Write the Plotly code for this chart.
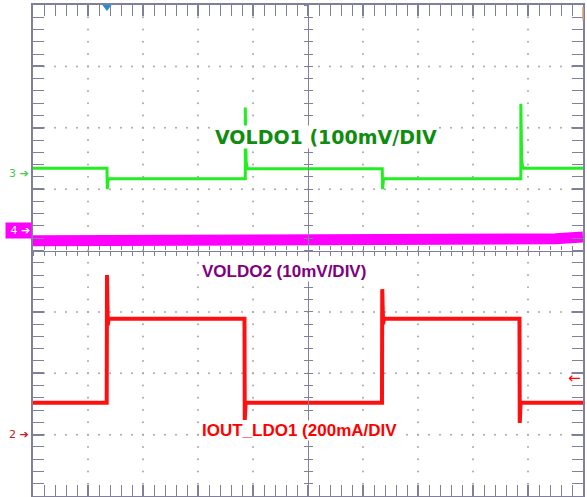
import plotly.graph_objects as go
import numpy as np

# ---- data (in scope divisions: x 0..10, y 0..8) ----
green_t = [0, 1.345, 1.35, 1.37, 3.86, 3.86, 3.875, 3.90, 6.35, 6.355, 6.375, 8.87, 8.87, 8.885, 8.91, 10]
green_v = [5.34, 5.34, 5.00, 5.17, 5.17, 6.33, 5.45, 5.33, 5.33, 5.00, 5.17, 5.17, 6.39, 5.45, 5.34, 5.34]

red_t = [0, 1.34, 1.345, 1.36, 1.375, 3.845, 3.85, 3.865, 3.88, 6.345, 6.35, 6.365, 6.38, 8.845, 8.85, 8.865, 8.88, 10]
red_v = [1.52, 1.52, 3.60, 2.78, 2.89, 2.89, 1.24, 1.50, 1.52, 1.52, 3.37, 2.80, 2.89, 2.89, 1.19, 1.50, 1.52, 1.52]

mag_t = [0, 0.5, 1, 1.5, 2, 2.5, 3, 3.5, 4, 4.5, 5, 5.5, 6, 6.5, 7, 7.5, 8, 8.5, 9, 9.5, 10]
mag_v = [4.16, 4.16, 4.17, 4.16, 4.16, 4.17, 4.16, 4.16, 4.17, 4.20, 4.20, 4.19, 4.17, 4.17, 4.16, 4.16, 4.16, 4.17, 4.17, 4.19, 4.22]

trigger_t = 1.345
ch3_ref, ch4_ref, ch2_ref = 5.26, 4.33, 1.0
cursor_level = 1.925

label1 = "VOLDO1 (100mV/DIV"
label2 = "VOLDO2 (10mV/DIV)"
label3 = "IOUT_LDO1 (200mA/DIV"

X_DIV, Y_DIV = 10, 8
AX = "#80809a"
DOT = "#a8a8a8"

fig = go.Figure()

# grid dots along major division lines
dx, dy = [], []
for gx in range(1, X_DIV):
    if gx == 5:
        continue
    for k in np.arange(0, Y_DIV + 1e-9, 0.2):
        dx.append(gx); dy.append(k)
for gy in range(1, Y_DIV):
    if gy == 4:
        continue
    for k in np.arange(0, X_DIV + 1e-9, 0.2):
        dx.append(k); dy.append(gy)
fig.add_trace(go.Scatter(x=dx, y=dy, mode="markers",
                         marker=dict(size=2, color=DOT), hoverinfo="skip", showlegend=False))

# dummy traces for centre-cross axes
for xa, ya in [("x2", "y"), ("x3", "y"), ("x", "y2"), ("x", "y3")]:
    fig.add_trace(go.Scatter(x=[None], y=[None], xaxis=xa, yaxis=ya, showlegend=False, hoverinfo="skip"))

fig.add_trace(go.Scatter(x=mag_t, y=mag_v, mode="lines",
                         line=dict(color="#ff00ff", width=11), hoverinfo="skip", showlegend=False))
fig.add_trace(go.Scatter(x=green_t, y=green_v, mode="lines",
                         line=dict(color="#22ee22", width=3), hoverinfo="skip", showlegend=False))
fig.add_trace(go.Scatter(x=red_t, y=red_v, mode="lines",
                         line=dict(color="#ff1010", width=4), hoverinfo="skip", showlegend=False))

fig.add_trace(go.Scatter(x=[trigger_t], y=[7.967], mode="markers",
                         marker=dict(symbol="triangle-down", size=8, color="#1e8fd6"),
                         hoverinfo="skip", showlegend=False, cliponaxis=False))

border = dict(showgrid=False, zeroline=False, showline=True, linecolor=AX, linewidth=1.5,
              mirror="allticks", ticks="inside", ticklen=11, tickwidth=1.5, tickcolor=AX,
              dtick=1, tick0=0, showticklabels=False,
              minor=dict(ticks="inside", ticklen=6, tickwidth=1.2, tickcolor=AX, dtick=0.2, tick0=0, showgrid=False))
cross = dict(showgrid=False, zeroline=False, showline=True, linecolor=AX, linewidth=1.2,
             ticklen=4, tickwidth=1.2, tickcolor=AX, dtick=1, tick0=0, showticklabels=False,
             anchor="free", position=0.5,
             minor=dict(ticklen=4, tickwidth=1.2, tickcolor=AX, dtick=0.2, tick0=0, showgrid=False))

fig.update_layout(
    width=587, height=497,
    margin=dict(l=33, r=4, t=5, b=1),
    paper_bgcolor="white", plot_bgcolor="white",
    xaxis=dict(range=[0, X_DIV], **border),
    yaxis=dict(range=[0, Y_DIV], **border),
    xaxis2=dict(range=[0, X_DIV], overlaying="x", side="bottom", ticks="outside",
                **{**cross, "minor": {**cross["minor"], "ticks": "outside"}}),
    xaxis3=dict(range=[0, X_DIV], overlaying="x", side="bottom", ticks="inside",
                **{**cross, "minor": {**cross["minor"], "ticks": "inside"}}),
    yaxis2=dict(range=[0, Y_DIV], overlaying="y", side="left", ticks="outside",
                **{**cross, "minor": {**cross["minor"], "ticks": "outside"}}),
    yaxis3=dict(range=[0, Y_DIV], overlaying="y", side="left", ticks="inside",
                **{**cross, "minor": {**cross["minor"], "ticks": "inside"}}),
    showlegend=False,
)

ann = []
ann.append(dict(x=5.33, y=5.85, xref="x", yref="y", text="<b>%s</b>" % label1, showarrow=False,
                font=dict(family="DejaVu Sans", size=19, color="#108c10"), bgcolor="white", borderpad=0))
ann.append(dict(x=4.57, y=3.65, xref="x", yref="y", text="<b>%s</b>" % label2, showarrow=False,
                font=dict(family="Liberation Sans", size=17, color="#800080"), bgcolor="white", borderpad=0))
ann.append(dict(x=4.84, y=1.06, xref="x", yref="y", text="<b>%s</b>" % label3, showarrow=False,
                font=dict(family="Liberation Sans", size=17, color="#ff0000"), bgcolor="white", borderpad=0))
ann.append(dict(x=-0.003, y=ch3_ref, xref="paper", yref="y", xanchor="right", text="3 ➔", showarrow=False,
                font=dict(family="DejaVu Sans", size=11, color="#44cc44")))
ann.append(dict(x=-0.002, y=ch4_ref, xref="paper", yref="y", xanchor="right", text=" 4 ➔", showarrow=False,
                font=dict(family="DejaVu Sans", size=11, color="white"), bgcolor="#ff00ff", borderpad=1))
ann.append(dict(x=-0.003, y=ch2_ref, xref="paper", yref="y", xanchor="right", text="2 ➔", showarrow=False,
                font=dict(family="DejaVu Sans", size=11, color="#c02020")))
ann.append(dict(x=9.85, y=cursor_level, xref="x", yref="y", text="←", showarrow=False,
                font=dict(family="DejaVu Sans", size=15, color="#ff0000")))
fig.update_layout(annotations=ann)

fig.add_shape(type="line", xref="paper", yref="paper", x0=1.0, x1=1.0, y0=0.969, y1=0.996,
              line=dict(color="#e0a070", width=1.5))

fig.write_html("out.html", config={"displayModeBar": False},
               post_script="document.body.style.margin='0px';")
